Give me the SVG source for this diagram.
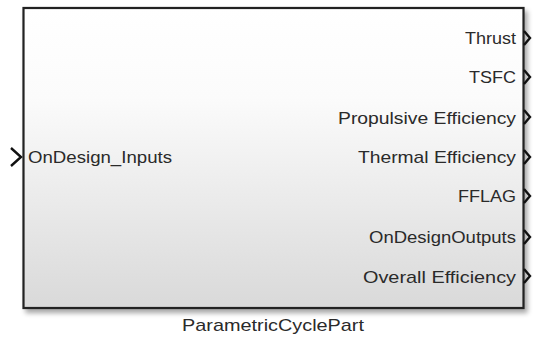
<svg xmlns="http://www.w3.org/2000/svg" width="536" height="338" viewBox="0 0 536 338">
<defs>
<linearGradient id="g" x1="0" y1="0" x2="0" y2="1">
<stop offset="0" stop-color="#ffffff"/>
<stop offset="0.3" stop-color="#fbfbfb"/>
<stop offset="1" stop-color="#d9d9d9"/>
</linearGradient>
<filter id="sh" x="-5%" y="-5%" width="112%" height="115%">
<feGaussianBlur in="SourceAlpha" stdDeviation="2.5"/>
<feOffset dx="3" dy="4"/>
<feComponentTransfer><feFuncA type="linear" slope="0.35"/></feComponentTransfer>
<feMerge><feMergeNode/><feMergeNode in="SourceGraphic"/></feMerge>
</filter>
<style>
.t{font-family:"Liberation Sans",Arial,sans-serif;font-size:17px;fill:#2a2a2a}
.r{text-anchor:end}
.p{fill:none;stroke:#111;stroke-width:2.4}
</style>
</defs>
<rect width="536" height="338" fill="#fff"/>
<g id="block">
<rect x="23.5" y="8" width="500" height="300" fill="url(#g)" stroke="#222" stroke-width="2.2" filter="url(#sh)"/>
<text class="t" x="28" y="163" textLength="144" lengthAdjust="spacingAndGlyphs">OnDesign_Inputs</text>
<text class="t r" x="516" y="44" textLength="51" lengthAdjust="spacingAndGlyphs">Thrust</text>
<text class="t r" x="516" y="83" textLength="47" lengthAdjust="spacingAndGlyphs">TSFC</text>
<text class="t r" x="516" y="124" textLength="178" lengthAdjust="spacingAndGlyphs">Propulsive Efficiency</text>
<text class="t r" x="516" y="163" textLength="158" lengthAdjust="spacingAndGlyphs">Thermal Efficiency</text>
<text class="t r" x="516" y="202" textLength="58" lengthAdjust="spacingAndGlyphs">FFLAG</text>
<text class="t r" x="516" y="243" textLength="147" lengthAdjust="spacingAndGlyphs">OnDesignOutputs</text>
<text class="t r" x="516" y="283" textLength="153" lengthAdjust="spacingAndGlyphs">Overall Efficiency</text>
<text class="t" x="182" y="331" textLength="182" lengthAdjust="spacingAndGlyphs">ParametricCyclePart</text>
</g>
<g id="ports">
<path class="p" d="M11 148 L21 157 L11 166" stroke-width="3"/>
<path class="p" d="M524 31 L530 38 L524 45"/>
<path class="p" d="M524 70 L530 77 L524 84"/>
<path class="p" d="M524 110 L530 117 L524 124"/>
<path class="p" d="M524 150 L530 157 L524 164"/>
<path class="p" d="M524 189 L530 196 L524 203"/>
<path class="p" d="M524 230 L530 237 L524 244"/>
<path class="p" d="M524 269 L530 276 L524 283"/>
</g>
</svg>
